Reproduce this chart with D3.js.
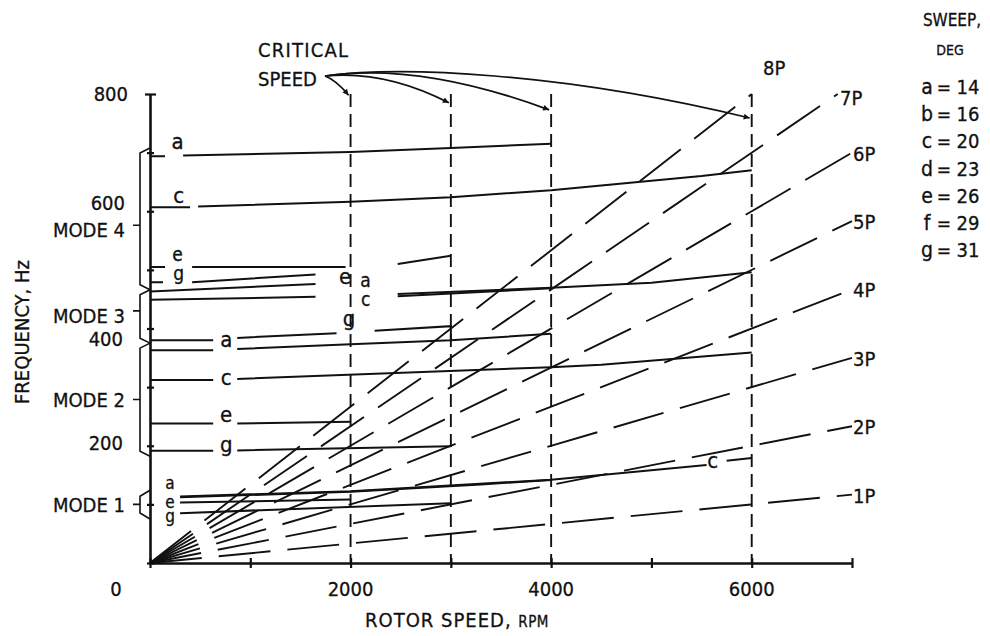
<!DOCTYPE html>
<html>
<head>
<meta charset="utf-8">
<script src="https://cdn.jsdelivr.net/npm/d3@7"></script>
<style>
  body { margin: 0; background: #fff; }
  svg text { font-family: "DejaVu Sans Condensed", "DejaVu Sans", sans-serif; font-stretch: condensed; fill: #111; stroke: #111; stroke-width: 0.3; }
</style>
</head>
<body>
<svg id="chart" width="990" height="636"></svg>
<script>
// ---------------- DATA ----------------
const xTickValues = [0, 1000, 2000, 3000, 4000, 5000, 6000, 7000];
const xTickLabels = [2000, 4000, 6000];
const yTickValues = [0, 100, 200, 300, 400, 500, 600, 700, 800];
const yTickLabels = [200, 400, 600, 800];
const criticalSpeeds = [2000, 3000, 4000, 6000];
const criticalArrowHz = [798, 785, 773, 759];
const perRevOrders = [1, 2, 3, 4, 5, 6, 7, 8];
const sweepLetters = ["a", "b", "c", "d", "e", "f", "g"];
const sweepDegrees = [14, 16, 20, 23, 26, 29, 31];
const modeNames = ["MODE 1", "MODE 2", "MODE 3", "MODE 4"];
const modeLowHz = [75, 182, 375, 466];
const modeHighHz = [124, 375, 466, 708];
const modeMidHz = [100, 279, 430, 576];

// frequency curves [rpm, Hz]; null = break in the drawn line (label gaps)
const mode4a = [[0, 694], [150, 694], null, [330, 695], [2000, 701], [3000, 708], [4000, 715]];
const mode4c = [[0, 607], [400, 607], null, [480, 608], [2000, 616], [3000, 624], [4000, 636], [5500, 660], [6000, 670]];
const mode4e = [[0, 505], [150, 505], null, [420, 505], [1950, 505], null, [2470, 510], [3000, 524]];
const mode4g = [[0, 479], [130, 479], null, [420, 479], [1650, 492]];
const mode3e = [[0, 463], [1650, 476]];
const mode3g = [[0, 449], [1650, 454]];
const mode3a = [[2470, 455], [4000, 468.5]];
const mode3c = [[2470, 459], [4000, 469.5], [5000, 478], [6000, 496]];
const mode3aLow = [[0, 380], [630, 380], null, [870, 384], [1860, 392], null, [2240, 396], [3000, 404], [3000, 380]];
const mode2a = [[0, 363], [630, 363], null, [870, 365], [2000, 373], [3000, 380], [4000, 391]];
const mode2c = [[0, 312], [630, 312], null, [870, 314], [4000, 334], [4500, 338], [6000, 359]];
const mode2e = [[0, 238], [630, 238], null, [870, 238], [2000, 241]];
const mode2g = [[0, 191.5], [630, 191.5], null, [870, 192], [3000, 199]];
const mode1a = [[300, 112], [2000, 121.5], [3300, 134], [4000, 141.5]];
const mode1c = [[300, 113.5], [2000, 122.5], [4000, 142], [5550, 167], null, [5750, 174.5], [6000, 179]];
const mode1e = [[300, 103], [2000, 108.5]];
const mode1g = [[300, 85], [3000, 102]];
const curves = [mode4a, mode4c, mode4e, mode4g, mode3e, mode3g, mode3a, mode3c, mode3aLow,
                mode2a, mode2c, mode2e, mode2g, mode1a, mode1c, mode1e, mode1g];

// curve labels: [letter, rpm, Hz]
const curveLabels = [
  ["a", 275, 716], ["c", 285, 624], ["e", 275, 525], ["g", 285, 487],
  ["e", 1945, 486], ["a", 2150, 481], ["c", 2150, 449], ["g", 1985, 410],
  ["a", 760, 378], ["c", 760, 314], ["e", 760, 250], ["g", 760, 195],
  ["a", 200, 136], ["e", 200, 104], ["g", 200, 75],
  ["c", 5610, 172]
];

// ---------------- LAYOUT ----------------
const svg = d3.select("#chart");
const x = d3.scaleLinear().domain([0, 7000]).range([150, 852]);
const y = d3.scaleLinear().domain([0, 800]).range([563, 94]);
const ink = "#111";

// axes
const gx = svg.append("g").attr("transform", `translate(0,${y(0)})`)
  .call(d3.axisBottom(x).tickValues(xTickValues).tickSizeOuter(0).tickSize(0).tickFormat(""));
gx.select(".domain").attr("stroke", ink).attr("stroke-width", 2.6);
gx.selectAll(".tick line").attr("y1", -5).attr("y2", 5).attr("stroke", ink).attr("stroke-width", 2.2);

const gy = svg.append("g").attr("transform", `translate(${x(0)},0)`)
  .call(d3.axisLeft(y).tickValues(yTickValues).tickSizeOuter(0).tickSize(0).tickFormat(""));
gy.select(".domain").attr("stroke", ink).attr("stroke-width", 2.6);
gy.selectAll(".tick line").attr("x1", d => d === 800 ? -5 : -3).attr("x2", d => d === 800 ? 6 : 4)
  .attr("stroke", ink).attr("stroke-width", 2.2);

// tick labels
const fs = 20;
svg.append("g").selectAll("text").data(xTickLabels).join("text")
  .attr("x", d => x(d)).attr("y", y(0) + 33).attr("text-anchor", "middle")
  .attr("font-size", fs).text(d => d);
svg.append("text").attr("x", x(0) - 34).attr("y", y(0) + 33).attr("text-anchor", "middle")
  .attr("font-size", fs).text("0");
const yLabelDy = {800: 7, 600: -1, 400: 17, 200: 4};
const yLabelX = {800: 128, 600: 125, 400: 123, 200: 123};
svg.append("g").selectAll("text").data(yTickLabels).join("text")
  .attr("x", d => yLabelX[d]).attr("y", d => y(d) + yLabelDy[d]).attr("text-anchor", "end")
  .attr("font-size", fs).text(d => d);

// axis titles
svg.append("text").attr("x", 365).attr("y", 627).attr("font-size", fs).attr("letter-spacing", 1)
  .text("ROTOR SPEED, ").append("tspan").attr("font-size", 15).attr("letter-spacing", 0.5).text("RPM");
svg.append("text").attr("transform", "translate(29,332) rotate(-90)").attr("text-anchor", "middle")
  .attr("font-size", fs).text("FREQUENCY, Hz");

// per-rev excitation lines
const pLine = d3.line().x(d => x(d[0])).y(d => y(d[1]));
svg.append("g").selectAll("path").data(perRevOrders).join("path")
  .attr("d", n => { const end = Math.min(7000, 800 * 60 / n); return pLine([[0, 0], [end, n * end / 60]]); })
  .attr("fill", "none").attr("stroke", ink).attr("stroke-width", 1.9)
  .attr("stroke-dasharray", "52,17");
svg.append("g").selectAll("text").data(perRevOrders).join("text")
  .attr("x", n => n === 8 ? 763 : (n === 7 ? 840 : x(7000) + 1))
  .attr("y", n => n === 8 ? 75 : (n === 7 ? 105 : y(n * 7000 / 60) + 8))
  .attr("font-size", fs).text(n => n + "P");

// critical speed verticals
svg.append("g").selectAll("line").data(criticalSpeeds).join("line")
  .attr("x1", d => x(d)).attr("x2", d => x(d)).attr("y1", y(800)).attr("y2", y(0))
  .attr("stroke", ink).attr("stroke-width", 1.9).attr("stroke-dasharray", "13,7");

// frequency curves
const cLine = d3.line().defined(d => d !== null).x(d => x(d[0])).y(d => y(d[1]));
svg.append("g").selectAll("path").data(curves).join("path")
  .attr("d", d => cLine(d)).attr("fill", "none").attr("stroke", ink).attr("stroke-width", 2);

// curve labels
const smallLabel = new Set([2, 3, 5, 6, 12, 13, 14]);
svg.append("g").selectAll("text").data(curveLabels).join("text")
  .attr("x", d => x(d[1])).attr("y", d => y(d[2]) + (d[0] === "g" ? 3 : 6))
  .attr("text-anchor", "middle")
  .attr("font-size", (d, i) => (i >= 12 && i <= 14) ? 17 : (smallLabel.has(i) ? 19 : 22))
  .text(d => d[0]);

// mode braces
const bx = x(0) - 10;
modeNames.forEach((m, i) => {
  const yt = y(modeHighHz[i]), yb = y(modeLowHz[i]), ym = y(modeMidHz[i]);
  const h = i === 0 ? 6 : 5;
  svg.append("path")
    .attr("d", `M${x(0)},${yt} L${bx},${yt + h} L${bx},${yb - h} L${x(0)},${yb} M${bx - 7},${ym} L${bx},${ym}`)
    .attr("fill", "none").attr("stroke", ink).attr("stroke-width", 1.6);
  svg.append("text").attr("x", bx - 15).attr("y", ym + (i >= 2 ? 12 : 8))
    .attr("text-anchor", "end").attr("font-size", fs).text(m);
});

// critical speed annotation
svg.append("text").attr("x", 258).attr("y", 57).attr("font-size", fs).attr("letter-spacing", 1.2).text("CRITICAL");
svg.append("text").attr("x", 258).attr("y", 86).attr("font-size", fs).text("SPEED");
const defs = svg.append("defs");
defs.append("marker").attr("id", "arr").attr("viewBox", "0 0 10 10").attr("refX", 10).attr("refY", 5)
  .attr("markerWidth", 9).attr("markerHeight", 6).attr("markerUnits", "userSpaceOnUse").attr("orient", "auto")
  .append("path").attr("d", "M0,0 L10,5 L0,10 Z").attr("fill", ink);
const sx = 325, sy = 76;
const ctrl = [[[336, 80]], [[385, 70]], [[420, 62]], [[400, 66], [560, 72]]];
criticalSpeeds.forEach((cs, i) => {
  const tx = x(cs) - 2, ty = y(criticalArrowHz[i]);
  const c = ctrl[i];
  const d = c.length === 1 ? `M${sx},${sy} Q${c[0][0]},${c[0][1]} ${tx},${ty}`
                           : `M${sx},${sy} C${c[0][0]},${c[0][1]} ${c[1][0]},${c[1][1]} ${tx},${ty}`;
  svg.append("path").attr("d", d).attr("fill", "none").attr("stroke", ink).attr("stroke-width", 1.7)
    .attr("marker-end", "url(#arr)");
});

// sweep legend
svg.append("text").attr("x", 952).attr("y", 26).attr("text-anchor", "middle").attr("font-size", 17).text("SWEEP,");
svg.append("text").attr("x", 950).attr("y", 55).attr("text-anchor", "middle").attr("font-size", 14).text("DEG");
const lg = svg.append("g").selectAll("g").data(sweepLetters).join("g")
  .attr("transform", (d, i) => `translate(0,${87 + i * 27.2})`);
lg.append("text").attr("x", 927).attr("y", 7).attr("text-anchor", "middle").attr("font-size", 21).text(d => d);
lg.append("text").attr("x", 944).attr("y", 7).attr("text-anchor", "middle").attr("font-size", 19).text("=");
lg.append("text").attr("x", 968).attr("y", 7).attr("text-anchor", "middle").attr("font-size", 20)
  .text((d, i) => sweepDegrees[i]);
</script>
</body>
</html>
